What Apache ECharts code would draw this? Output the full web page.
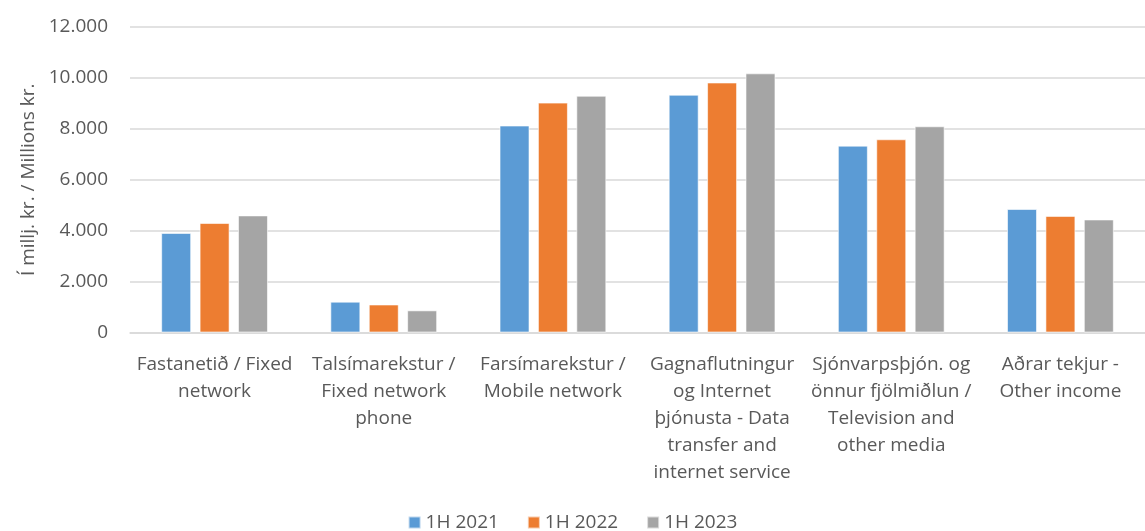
<!DOCTYPE html>
<html>
<head>
<meta charset="utf-8">
<script src="https://cdn.jsdelivr.net/npm/echarts@6/dist/echarts.min.js"></script>
<style>
  html, body { margin: 0; padding: 0; background: #fff; }
  #chart { width: 1145px; height: 531px; }
</style>
</head>
<body>
<div id="chart"></div>
<script>
// Revenue by service line, first half of each year (millions ISK)
const categories = [
  'Fastanetið / Fixed\nnetwork',
  'Talsímarekstur /\nFixed network\nphone',
  'Farsímarekstur /\nMobile network',
  'Gagnaflutningur\nog Internet\nþjónusta - Data\ntransfer and\ninternet service',
  'Sjónvarpsþjón. og\nönnur fjölmiðlun /\nTelevision and\nother media',
  'Aðrar tekjur -\nOther income'
];
const seriesNames = ['1H 2021', '1H 2022', '1H 2023'];
const values2021 = [3910, 1210, 8130, 9340, 7340, 4850];
const values2022 = [4300, 1100, 9030, 9820, 7590, 4580];
const values2023 = [4600, 870, 9300, 10180, 8100, 4440];
const colors = ['#5B9BD5', '#ED7D31', '#A5A5A5'];
const yTicks = { min: 0, max: 12000, interval: 2000 };
const yAxisName = 'Í millj. kr. / Millions kr.';

const font = '"Open Sans", "Noto Sans", sans-serif';
const textColor = '#595959';

function fmt(v) {
  return String(v).replace(/\B(?=(\d{3})+(?!\d))/g, '.');
}

const allValues = [values2021, values2022, values2023];

const chart = echarts.init(document.getElementById('chart'), null, { renderer: 'canvas' });
chart.setOption({
  animation: false,
  textStyle: { fontFamily: font },
  grid: { left: 130, top: 27, width: 1028, height: 305.5 },
  legend: {
    bottom: -6,
    left: 'center',
    itemWidth: 12,
    itemHeight: 12,
    itemGap: 28,
    icon: 'rect',
    textStyle: { fontFamily: font, fontSize: 19, color: textColor },
    data: seriesNames
  },
  xAxis: {
    type: 'category',
    data: categories,
    axisLine: { lineStyle: { color: '#D9D9D9', width: 1.5 } },
    axisTick: { show: false },
    axisLabel: {
      interval: 0,
      color: textColor,
      fontFamily: font,
      fontSize: 19,
      lineHeight: 27,
      margin: 19
    }
  },
  yAxis: {
    type: 'value',
    min: yTicks.min,
    max: yTicks.max,
    interval: yTicks.interval,
    name: yAxisName,
    nameLocation: 'middle',
    nameGap: 92,
    nameRotate: 90,
    nameTextStyle: { color: textColor, fontFamily: font, fontSize: 19 },
    axisLine: { show: false },
    axisTick: { show: false },
    splitLine: { lineStyle: { color: '#D9D9D9', width: 1.5 } },
    axisLabel: {
      color: textColor,
      fontFamily: font,
      fontSize: 19,
      margin: 22,
      formatter: fmt
    }
  },
  series: seriesNames.map((name, i) => ({
    name: name,
    type: 'bar',
    data: allValues[i],
    barWidth: 30,
    barGap: '28%',
    itemStyle: { color: colors[i], borderColor: 'rgba(255,255,255,0.6)', borderWidth: 1 }
  }))
});
</script>
</body>
</html>
